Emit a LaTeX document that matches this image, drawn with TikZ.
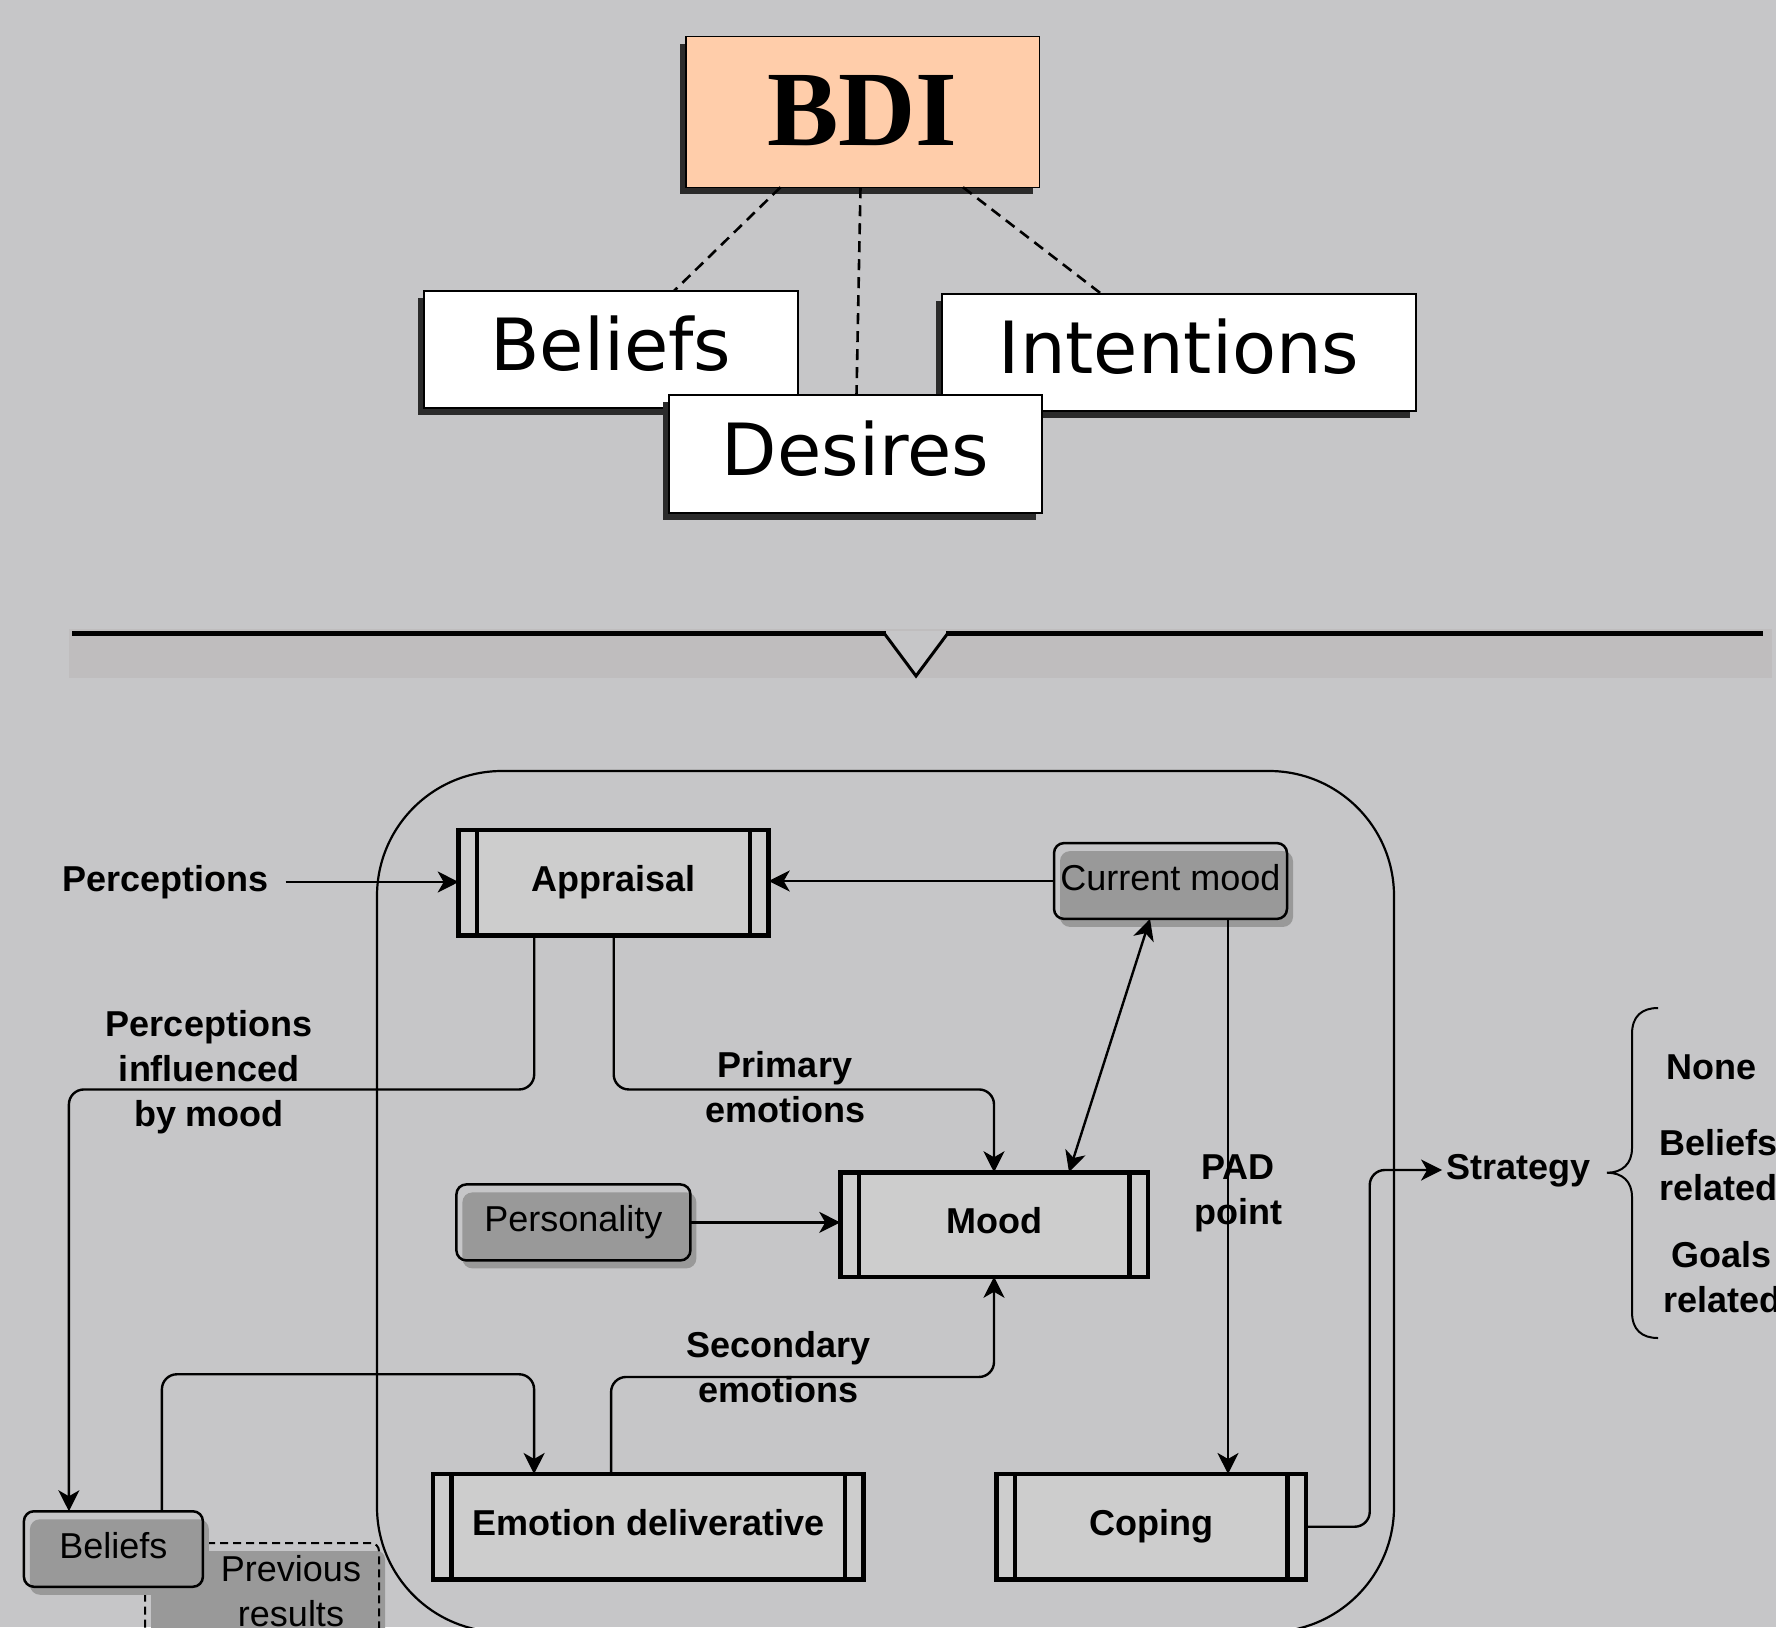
\documentclass[tikz,border=0pt]{standalone}
\usepackage{fontspec}
\setmainfont{Liberation Sans}
\newfontfamily\dvsans{DejaVu Sans}
\newfontfamily\lserif{Liberation Serif}
\usetikzlibrary{shadows,arrows.meta}
\definecolor{bgc}{HTML}{C6C6C8}
\definecolor{bandc}{HTML}{BFBDBE}
\definecolor{peach}{HTML}{FFCDAA}
\definecolor{procfill}{HTML}{CDCDCD}
\definecolor{sgray}{HTML}{999999}
\definecolor{topshadow}{HTML}{2B2B2B}
\newcommand\mylbl{\fontsize{36}{45}\selectfont}
\begin{document}
\begin{tikzpicture}[x=1pt, y=-1pt,
  topbox/.style={draw, line width=2pt, fill=white, inner sep=0pt, outer sep=0pt,
    drop shadow={shadow xshift=-6pt, shadow yshift=-7pt, fill=topshadow, opacity=1},
    font=\dvsans\fontsize{72}{86}\selectfont, text height=54pt, text depth=12pt},
  dashconn/.style={line width=2.6pt, dash pattern=on 11pt off 7pt},
  proc/.style={draw, line width=4.5pt, fill=procfill, inner sep=0pt, outer sep=0pt,
    font=\mylbl\bfseries, text height=26pt, text depth=7.5pt},
  rbox/.style={draw, line width=2.5pt, rounded corners=10pt, inner sep=0pt, outer sep=0pt,
    drop shadow={shadow xshift=6pt, shadow yshift=-8pt, fill=sgray, opacity=1},
    font=\mylbl, text height=26pt, text depth=7.5pt},
  lbl/.style={font=\mylbl\bfseries, align=center, inner sep=0pt},
  conn/.style={line width=2.4pt, -{Stealth[length=21pt,width=21pt,inset=6pt]}},
  connb/.style={line width=2.4pt, {Stealth[length=21pt,width=21pt,inset=6pt]}-{Stealth[length=21pt,width=21pt,inset=6pt]}}
]
\useasboundingbox (0,0) rectangle (1776,1627);
\clip (0,0) rectangle (1776,1627);
\fill[bgc] (0,0) rectangle (1776,1627);

% ---------- top: BDI ----------
\node[topbox, fill=peach, line width=1.5pt, minimum width=353.5pt, minimum height=150.5pt,
  font=\lserif\bfseries\fontsize{107}{120}\selectfont, text height=71pt, text depth=5pt]
  (bdi) at (862.5,112) {BDI};
\node[topbox, minimum width=374pt, minimum height=117pt] (bel) at (611,349.5) {Beliefs};
\node[topbox, minimum width=474pt, minimum height=117pt] (int) at (1179,352.5) {Intentions};
\draw[dashconn] ([xshift=-82pt]bdi.south) -- ([xshift=63pt]bel.north);
\draw[dashconn] ([xshift=100.5pt]bdi.south) -- ([xshift=-77.5pt]int.north);
\node[topbox, minimum width=373pt, minimum height=118pt] (des) at (855.5,454) {Desires};
\draw[dashconn] ([xshift=-2pt]bdi.south) -- ([xshift=1pt]des.north);

% ---------- separator ----------
\fill[bandc] (69,629) rectangle (1772,677.5);
\fill[bgc] (884,631) -- (916,676) -- (948,631) -- cycle;
\draw[line width=5pt] (72,633) -- (886,633);
\draw[line width=5pt] (946,633) -- (1763,633);
\draw[line width=3pt, line join=miter] (884,633) -- (916,676) -- (948,633);

% ---------- lower frame ----------
\draw[line width=2.2pt, rounded corners=125pt] (377,771) rectangle (1394,1632);

% ---------- process boxes ----------
\node[proc, minimum width=310pt, minimum height=105.5pt] (appr) at (613.7,882.7) {Appraisal};
\node[proc, minimum width=307.5pt, minimum height=104.5pt] (mood) at (994,1224.5) {Mood};
\node[proc, minimum width=430.7pt, minimum height=105.5pt] (emo) at (648.1,1526.7) {Emotion deliverative};
\node[proc, minimum width=309.5pt, minimum height=105.5pt] (cop) at (1151,1526.7) {Coping};
\foreach \n in {appr,mood,emo,cop}{
  \draw[line width=4.5pt] ([xshift=18.5pt]\n.north west) -- ([xshift=18.5pt]\n.south west);
  \draw[line width=4.5pt] ([xshift=-18.5pt]\n.north east) -- ([xshift=-18.5pt]\n.south east);
}

% ---------- rounded boxes ----------
\node[rbox, minimum width=233pt, minimum height=75.8pt] (cm) at (1170.5,881) {Current mood};
\node[rbox, minimum width=234pt, minimum height=76pt] (pers) at (573.4,1222.4) {Personality};
\node[rbox, dashed, dash pattern=on 8pt off 5pt, line width=2pt, rounded corners=8pt,
  minimum width=234pt, minimum height=98pt] (prev) at (262,1592) {};
\node[font=\mylbl, align=center, inner sep=0pt] (prevtxt) at (291,1591) {Previous\\results};
\node[rbox, minimum width=179pt, minimum height=75.5pt] (bel2) at (113.4,1549) {Beliefs};

% ---------- text labels ----------
\node[lbl, inner xsep=17pt, text height=26pt, text depth=7.5pt] (perc) at (165.5,882) {Perceptions};
\node[lbl, inner xsep=4pt, text height=26pt, text depth=7.5pt] (strat) at (1518.3,1170) {Strategy};
\node[lbl] (lpim) at (209,1072.5) {Perceptions\\influenced\\by mood};
\node[lbl] (lpe) at (785,1087.5) {Primary\\emotions};
\node[lbl] (lse) at (778.5,1367.5) {Secondary\\emotions};
\node[lbl] (lpad) at (1238,1193.5) {PAD\\point};
\node[lbl, anchor=base west] (none) at (1666,1079.3) {None};
\node[lbl, anchor=base west] (bel3) at (1659,1155.7) {Beliefs};
\node[lbl, anchor=base west] (rel1) at (1659,1200.7) {related};
\node[lbl, anchor=base west] (goals) at (1671,1267) {Goals};
\node[lbl, anchor=base west] (rel2) at (1663,1312.7) {related};

% ---------- connectors ----------
\draw[conn] (perc.east) -- (perc.east -| appr.west);
\draw[conn] (cm.west) -- (cm.west -| appr.east);
\draw[conn, rounded corners=15pt] ([xshift=-79.5pt]appr.south) -- ++(0,154) -| ([xshift=-44.5pt]bel2.north);
\draw[conn, rounded corners=15pt] (appr.south) -- ++(0,154) -| (mood.north);
\draw[connb] ([xshift=-20.5pt]cm.south) -- ([xshift=75pt]mood.north);
\draw[conn] ([xshift=57.5pt]cm.south) -- ([xshift=57.5pt]cm.south |- cop.north);
\draw[conn] (pers.east) -- (pers.east -| mood.west);
\draw[conn, rounded corners=15pt] (cop.east) -- ++(64,0) |- (strat.west);
\draw[conn, rounded corners=15pt] ([xshift=48.5pt]bel2.north) -- ++(0,-137) -| ([xshift=-114pt]emo.north);
\draw[conn, rounded corners=15pt] ([xshift=-37pt]emo.north) -- ++(0,-97) -| (mood.south);

% ---------- brace ----------
\draw[line width=2pt] (1658,1008) .. controls (1642,1008) and (1632,1016) .. (1632,1034)
  -- (1632,1148) .. controls (1632,1164) and (1622,1172.7) .. (1607,1172.7)
  .. controls (1622,1172.7) and (1632,1181) .. (1632,1197)
  -- (1632,1312) .. controls (1632,1330) and (1642,1338) .. (1658,1338);
\end{tikzpicture}
\end{document}
